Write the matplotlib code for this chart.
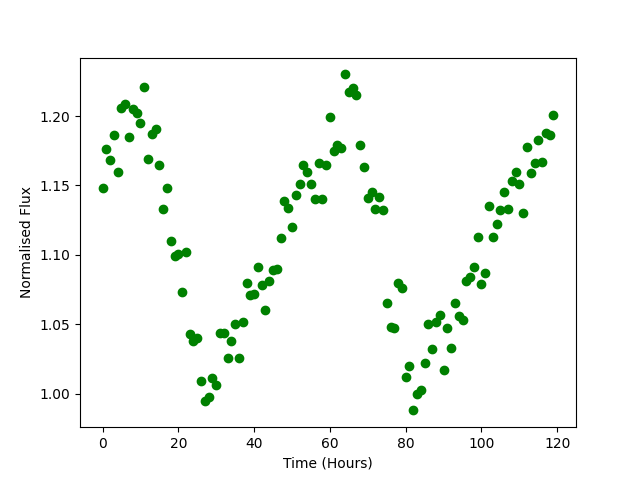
import numpy as np
from matplotlib import pyplot as plt

# hourly flux readings
hours = np.arange(120)
flux = [1.148, 1.176, 1.168, 1.186, 1.160, 1.206, 1.209, 1.185, 1.205, 1.202,
        1.195, 1.221, 1.169, 1.187, 1.191, 1.165, 1.133, 1.148, 1.110, 1.099,
        1.101, 1.073, 1.102, 1.043, 1.038, 1.040, 1.009, 0.995, 0.998, 1.011,
        1.006, 1.044, 1.044, 1.026, 1.038, 1.050, 1.026, 1.052, 1.080, 1.071,
        1.072, 1.091, 1.078, 1.060, 1.081, 1.089, 1.090, 1.112, 1.139, 1.134,
        1.120, 1.143, 1.151, 1.165, 1.160, 1.151, 1.140, 1.166, 1.140, 1.165,
        1.199, 1.175, 1.179, 1.177, 1.230, 1.217, 1.220, 1.215, 1.179, 1.163,
        1.141, 1.145, 1.133, 1.142, 1.132, 1.065, 1.048, 1.047, 1.080, 1.076,
        1.012, 1.020, 0.988, 1.000, 1.003, 1.022, 1.050, 1.032, 1.052, 1.057,
        1.017, 1.047, 1.033, 1.065, 1.056, 1.053, 1.081, 1.084, 1.091, 1.113,
        1.079, 1.087, 1.135, 1.113, 1.122, 1.132, 1.145, 1.133, 1.153, 1.160,
        1.151, 1.130, 1.178, 1.159, 1.166, 1.183, 1.167, 1.188, 1.186, 1.201]

fig, ax = plt.subplots(figsize=(6.4, 4.8), dpi=100)
ax.scatter(hours, flux, color='green')
ax.set_xlabel('Time (Hours)')
ax.set_ylabel('Normalised Flux')
plt.savefig('out.png', dpi=100)
